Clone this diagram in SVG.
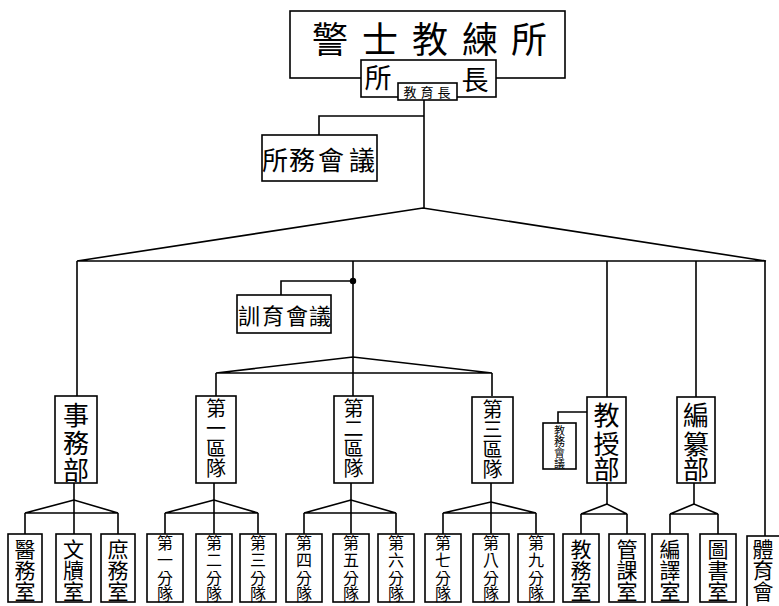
<svg xmlns="http://www.w3.org/2000/svg" width="779" height="606" viewBox="0 0 779 606">
<style>
.box{fill:#fff;stroke:#000;stroke-width:1.6}
.ln{fill:none;stroke:#000;stroke-width:1.6}
.t{font-family:"Noto Sans CJK TC","Noto Sans CJK SC",sans-serif;text-anchor:middle;dominant-baseline:central;fill:#000}
.mid{font-size:26px}
.mid4{font-size:20px}
.b3{font-size:21px}
.b4{font-size:16px}
</style>
<rect width="779" height="606" fill="#fff"/>
<g id="connectors">
  <line class="ln" x1="424" y1="100" x2="424" y2="208"/>
  <polyline class="ln" points="424,116 319,116 319,135"/>
  <polygon class="ln" points="423,208 77,261 766,261"/>
  <line class="ln" x1="77" y1="261" x2="77" y2="396"/>
  <line class="ln" x1="353" y1="261" x2="353" y2="396"/>
  <line class="ln" x1="607" y1="261" x2="607" y2="397"/>
  <line class="ln" x1="696" y1="261" x2="696" y2="397"/>
  <line class="ln" x1="765" y1="261" x2="765" y2="536"/>
  <circle cx="353" cy="281" r="3.2" fill="#000"/>
  <polyline class="ln" points="353,281 281,281 281,295"/>
  <polygon class="ln" points="353,357 216,373 492,373"/>
  <line class="ln" x1="216" y1="373" x2="216" y2="396"/>
  <line class="ln" x1="492" y1="373" x2="492" y2="396"/>
  <polyline class="ln" points="587,412 558,412 558,423"/>
  <line class="ln" x1="74" y1="483" x2="74" y2="534"/>
  <polygon class="ln" points="74,500 25,513 118,513"/>
  <line class="ln" x1="25" y1="513" x2="25" y2="534"/>
  <line class="ln" x1="118" y1="513" x2="118" y2="534"/>
  <line class="ln" x1="214" y1="483" x2="214" y2="534"/>
  <polygon class="ln" points="214,500 165,513 258,513"/>
  <line class="ln" x1="165" y1="513" x2="165" y2="534"/>
  <line class="ln" x1="258" y1="513" x2="258" y2="534"/>
  <line class="ln" x1="351" y1="483" x2="351" y2="534"/>
  <polygon class="ln" points="351,500 304,513 396,513"/>
  <line class="ln" x1="304" y1="513" x2="304" y2="534"/>
  <line class="ln" x1="396" y1="513" x2="396" y2="534"/>
  <line class="ln" x1="491" y1="483" x2="491" y2="534"/>
  <polygon class="ln" points="491,502 443,513 536,513"/>
  <line class="ln" x1="443" y1="513" x2="443" y2="534"/>
  <line class="ln" x1="536" y1="513" x2="536" y2="534"/>
  <line class="ln" x1="607" y1="483" x2="607" y2="504"/>
  <polygon class="ln" points="607,504 581,514 627,514"/>
  <line class="ln" x1="581" y1="514" x2="581" y2="534"/>
  <line class="ln" x1="627" y1="514" x2="627" y2="534"/>
  <line class="ln" x1="694" y1="483" x2="694" y2="504"/>
  <polygon class="ln" points="694,504 670,514 718,514"/>
  <line class="ln" x1="670" y1="514" x2="670" y2="534"/>
  <line class="ln" x1="718" y1="514" x2="718" y2="534"/>
</g>
<g id="n-title">
  <rect class="box" x="290" y="11" width="275" height="67"/>
  <text class="t" style="font-size:36px" x="330 380 430 480 529" y="37 37 37 37 37">警士教練所</text>
</g>
<g id="n-chief">
  <rect class="box" x="361" y="60" width="135" height="37"/>
  <text class="t" style="font-size:27px" x="378" y="76">所</text>
  <text class="t" style="font-size:27px" x="475" y="78">長</text>
</g>
<g id="n-edu-chief">
  <rect class="box" x="398" y="83" width="59" height="17"/>
  <text class="t" style="font-size:13px" x="410 427 444" y="91.5 91.5 91.5">教育長</text>
</g>
<g id="n-council">
  <rect class="box" x="262" y="135" width="115" height="46"/>
  <text class="t" style="font-size:26px" x="275 302 331 362" y="158 158 158 158">所務會議</text>
</g>
<g id="n-training-council">
  <rect class="box" x="237" y="295" width="94" height="38"/>
  <text class="t" style="font-size:22px" x="249 273 297 320" y="314 314 314 314">訓育會議</text>
</g>
<g id="n-affairs">
  <rect class="box" x="55" y="396" width="42" height="87"/>
  <text class="t mid" x="76 76 76" y="413 441 468">事務部</text>
</g>
<g id="n-q1">
  <rect class="box" x="196" y="396" width="40" height="87"/>
  <text class="t mid4" x="216 216 216 216" y="407 427 447 467">第一區隊</text>
</g>
<g id="n-q2">
  <rect class="box" x="334" y="396" width="39" height="87"/>
  <text class="t mid4" x="353.5 353.5 353.5 353.5" y="407 427 447 467">第二區隊</text>
</g>
<g id="n-q3">
  <rect class="box" x="472" y="397" width="41" height="86"/>
  <text class="t mid4" x="492.5 492.5 492.5 492.5" y="408 428 448 468">第三區隊</text>
</g>
<g id="n-teach">
  <rect class="box" x="587" y="397" width="39" height="86"/>
  <text class="t mid" x="606.5 606.5 606.5" y="413 442 467">教授部</text>
</g>
<g id="n-teach-council">
  <rect class="box" x="543" y="423" width="33" height="46"/>
  <text class="t" style="font-size:11px" x="559.5 559.5 559.5 559.5" y="430 441 452 463">教務會議</text>
</g>
<g id="n-edit">
  <rect class="box" x="677" y="397" width="38" height="86"/>
  <text class="t mid" x="696 696 696" y="413 442 467">編纂部</text>
</g>
<g id="n-med"><rect class="box" x="8" y="534" width="34" height="68"/><text class="t b3" x="25 25 25" y="548 569 590">醫務室</text></g>
<g id="n-doc"><rect class="box" x="56" y="534" width="35" height="68"/><text class="t b3" x="73.5 73.5 73.5" y="548 569 590">文牘室</text></g>
<g id="n-gen"><rect class="box" x="101" y="534" width="34" height="68"/><text class="t b3" x="118 118 118" y="548 569 590">庶務室</text></g>
<g id="n-s1"><rect class="box" x="147" y="534" width="36" height="68"/><text class="t b4" x="165 165 165 165" y="542 559 577 593">第一分隊</text></g>
<g id="n-s2"><rect class="box" x="196" y="534" width="36" height="68"/><text class="t b4" x="214 214 214 214" y="542 559 577 593">第二分隊</text></g>
<g id="n-s3"><rect class="box" x="240" y="534" width="36" height="68"/><text class="t b4" x="258 258 258 258" y="542 559 577 593">第三分隊</text></g>
<g id="n-s4"><rect class="box" x="286" y="534" width="36" height="68"/><text class="t b4" x="304 304 304 304" y="542 559 577 593">第四分隊</text></g>
<g id="n-s5"><rect class="box" x="333" y="534" width="36" height="68"/><text class="t b4" x="351 351 351 351" y="542 559 577 593">第五分隊</text></g>
<g id="n-s6"><rect class="box" x="378" y="534" width="36" height="68"/><text class="t b4" x="396 396 396 396" y="542 559 577 593">第六分隊</text></g>
<g id="n-s7"><rect class="box" x="425" y="534" width="36" height="68"/><text class="t b4" x="443 443 443 443" y="542 559 577 593">第七分隊</text></g>
<g id="n-s8"><rect class="box" x="473" y="534" width="36" height="68"/><text class="t b4" x="491 491 491 491" y="542 559 577 593">第八分隊</text></g>
<g id="n-s9"><rect class="box" x="518" y="534" width="36" height="68"/><text class="t b4" x="536 536 536 536" y="542 559 577 593">第九分隊</text></g>
<g id="n-acad"><rect class="box" x="563" y="534" width="36" height="68"/><text class="t b3" x="581 581 581" y="548 569 590">教務室</text></g>
<g id="n-course"><rect class="box" x="609" y="534" width="36" height="68"/><text class="t b3" x="627 627 627" y="548 569 590">管課室</text></g>
<g id="n-trans"><rect class="box" x="652" y="534" width="36" height="68"/><text class="t b3" x="670 670 670" y="548 569 590">編譯室</text></g>
<g id="n-lib"><rect class="box" x="700" y="534" width="36" height="68"/><text class="t b3" x="718 718 718" y="548 569 590">圖書室</text></g>
<g id="n-pe"><rect class="box" x="747" y="536" width="50" height="80"/><text class="t" style="font-size:21px" x="763 763 763" y="548 569 590">體育會</text></g>
</svg>
